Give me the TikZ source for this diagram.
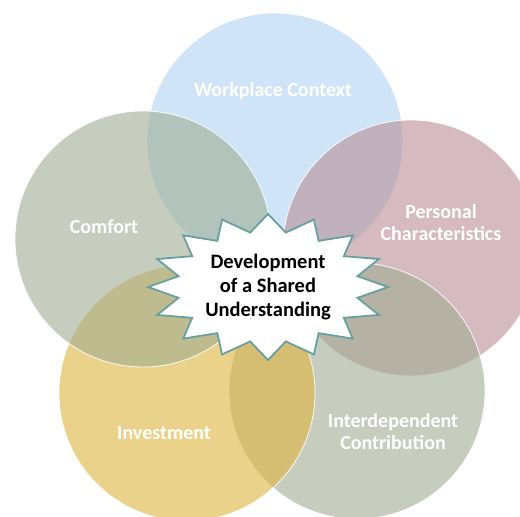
\documentclass[tikz,border=0pt]{standalone}
\usepackage{fontspec}
\setmainfont{Carlito}
\definecolor{cblue}{RGB}{175,210,242}
\definecolor{cgreen}{RGB}{160,173,147}
\definecolor{cpink}{RGB}{185,143,150}
\definecolor{cgold}{RGB}{223,180,63}
\definecolor{cteal}{RGB}{104,160,160}
\tikzset{
  bubble/.style={circle, minimum size=256pt, inner sep=0pt, draw=white, line width=0.8pt, fill opacity=0.6, draw opacity=0.9},
  lab/.style={text=white, font=\bfseries\fontsize{20}{22}\selectfont, align=center},
  core/.style={text=black, font=\bfseries\fontsize{20.5}{24}\selectfont, align=center},
  starline/.style={draw=cteal, line width=1.8pt, fill=white, line join=miter}
}
\begin{document}
\begin{tikzpicture}[x=1pt,y=-1pt]
\useasboundingbox (0,0) rectangle (520,517);
\clip (0,0) rectangle (520,517);
\fill[white] (0,0) rectangle (520,517);
\node[bubble, fill=cblue] (work) at (275,141) {};
\node[bubble, fill=cpink] (pers) at (411,248) {};
\node[bubble, fill=cgreen] (inter) at (357,391) {};
\node[bubble, fill=cgold] (inv) at (187,393) {};
\node[bubble, fill=cgreen] (comf) at (143,239) {};
\node[lab] (tw) at (273,91) {Workplace Context};
\node[lab] (tc) at (104,227) {Comfort};
\node[lab] (tp) at (441,223) {Personal\\Characteristics};
\node[lab] (ti) at (164,433) {Investment};
\node[lab] (td) at (393,432) {Interdependent\\Contribution};
\draw[starline] plot[samples at={0,...,31}]
  ({268+120*(1-0.24*mod(\x,2))*sin(\x*11.25)},{287-73*(1-0.24*mod(\x,2))*cos(\x*11.25)}) -- cycle;
\node[core] (center) at (268,287) {Development\\of a Shared\\Understanding};
\end{tikzpicture}
\end{document}
